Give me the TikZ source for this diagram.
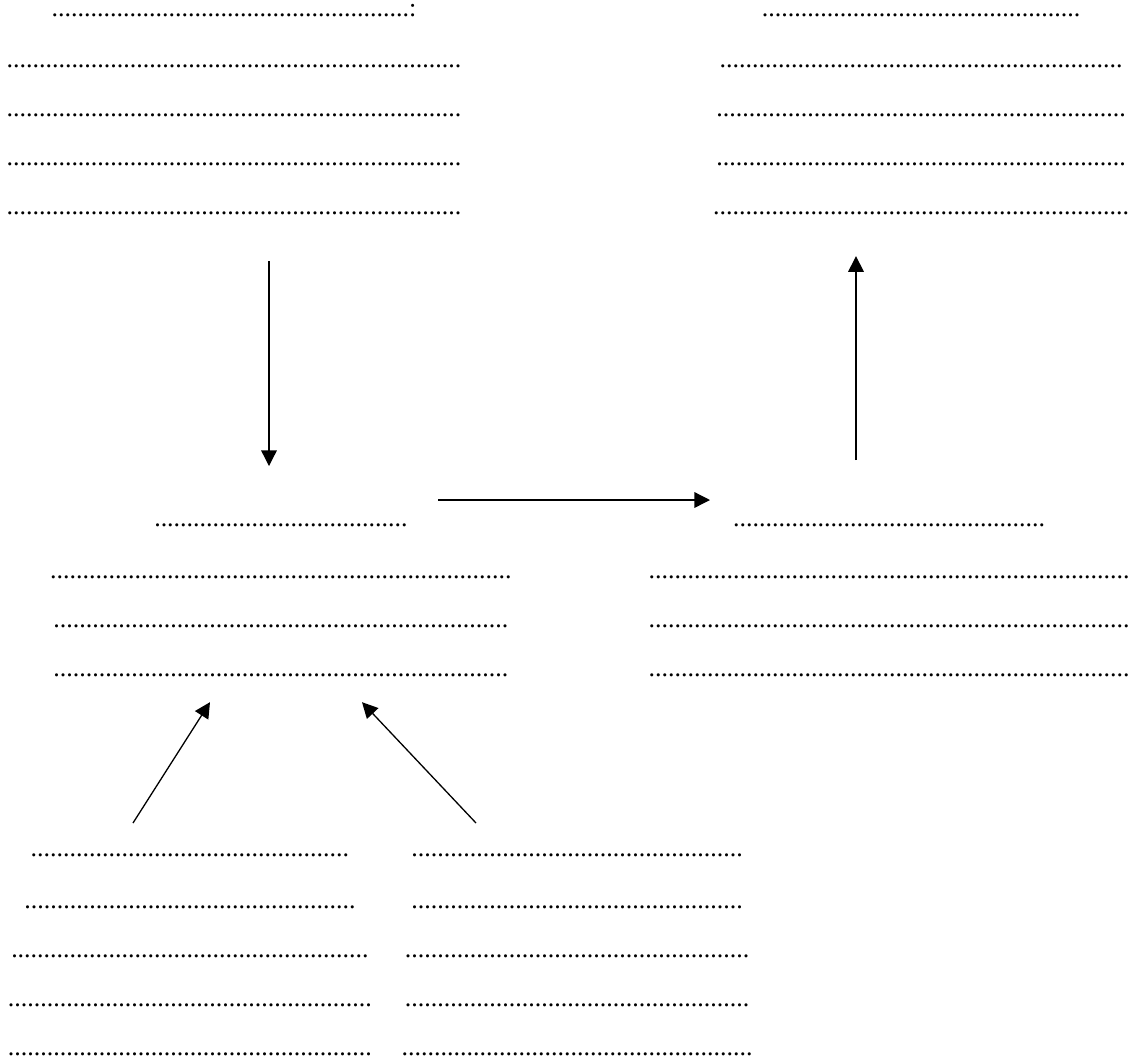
\documentclass[tikz,border=0pt]{standalone}
\usepackage{fontspec}
\setmainfont{Liberation Serif}
\usetikzlibrary{arrows.meta}

% a row of n dots to fill in
\newcommand{\dotrow}[1]{\foreach \i in {1,...,#1}{.}}
% fixed height for the first row (taller than the colon)
\newcommand{\toprow}{\rule{0pt}{6.5pt}}

\tikzset{
  dotlines/.style={anchor=north, inner sep=0pt, align=center,
    font=\fontsize{13}{24.5}\selectfont},
  flow/.style={-{Triangle[length=7.8pt,width=7.8pt]}, line width=0.65pt}
}

\begin{document}
\begin{tikzpicture}[x=0.5pt, y=-0.5pt]

\useasboundingbox (0,0) rectangle (1130,1056);

% Top blocks
\node[dotlines] (tl) at (234,3) {\toprow\dotrow{55}:\\[1pt]
  \dotrow{70}\\ \dotrow{70}\\ \dotrow{70}\\ \dotrow{70}};
\node[dotlines] (tr) at (921,3) {\toprow\dotrow{49}\\[1pt]
  \dotrow{62}\\ \dotrow{63}\\ \dotrow{63}\\ \dotrow{64}};

% Middle blocks
\node[dotlines] (ml) at (281,513) {\toprow\dotrow{39}\\[1.5pt]
  \dotrow{71}\\ \dotrow{70}\\ \dotrow{70}};
\node[dotlines] (mr) at (889,513) {\toprow\dotrow{48}\\[1.5pt]
  \dotrow{74}\\ \dotrow{74}\\ \dotrow{74}};

% Bottom blocks
\node[dotlines] (bl) at (190,843) {\toprow\dotrow{49}\\[1.5pt]
  \dotrow{51}\\ \dotrow{55}\\ \dotrow{56}\\ \dotrow{56}};
\node[dotlines] (br) at (577,843) {\toprow\dotrow{51}\\[1.5pt]
  \dotrow{51}\\ \dotrow{53}\\ \dotrow{53}\\ \dotrow{54}};

% Arrows between the blocks
\draw[flow] ([shift={(35,46)}]tl.south) -- ([shift={(-12,-47)}]ml.north);
\draw[flow] ([shift={(157,-13)}]ml.north) -- ([shift={(-179,-13)}]mr.north);
\draw[flow] ([shift={(-33,-53)}]mr.north) -- ([shift={(-65,41)}]tr.south);
\draw[flow] ([shift={(-57,-20)}]bl.north) -- ([shift={(-71,25)}]ml.south);
\draw[flow] ([shift={(-101,-20)}]br.north) -- ([shift={(81,25)}]ml.south);

\end{tikzpicture}
\end{document}
